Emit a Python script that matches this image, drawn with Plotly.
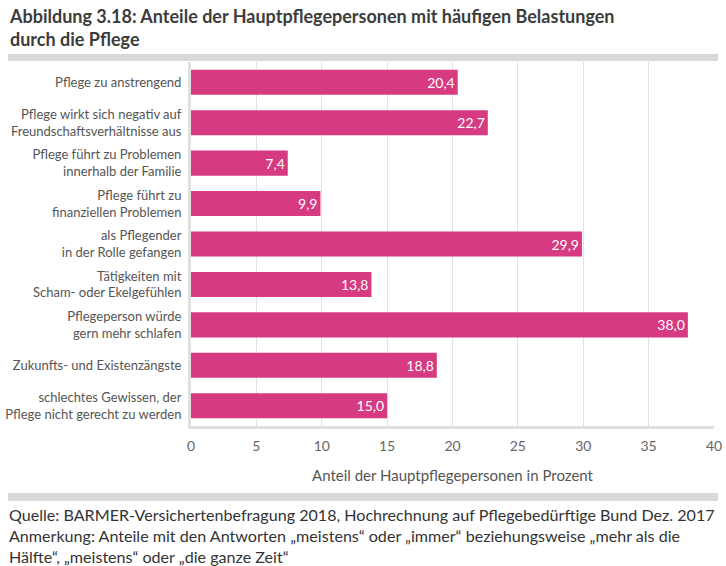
import plotly.graph_objects as go

categories = [
    "Pflege zu anstrengend",
    "Pflege wirkt sich negativ auf<br>Freundschaftsverhältnisse aus",
    "Pflege führt zu Problemen<br>innerhalb der Familie",
    "Pflege führt zu<br>finanziellen Problemen",
    "als Pflegender<br>in der Rolle gefangen",
    "Tätigkeiten mit<br>Scham- oder Ekelgefühlen",
    "Pflegeperson würde<br>gern mehr schlafen",
    "Zukunfts- und Existenzängste",
    "schlechtes Gewissen, der<br>Pflege nicht gerecht zu werden",
]
values = [20.4, 22.7, 7.4, 9.9, 29.9, 13.8, 38.0, 18.8, 15.0]
x_ticks = [0, 5, 10, 15, 20, 25, 30, 35, 40]

title_lines = ["Abbildung 3.18: Anteile der Hauptpflegepersonen mit häufigen Belastungen",
               "durch die Pflege"]
x_title = "Anteil der Hauptpflegepersonen in Prozent"
footer_lines = [
    "Quelle: BARMER-Versichertenbefragung 2018, Hochrechnung auf Pflegebedürftige Bund Dez. 2017",
    "Anmerkung: Anteile mit den Antworten „meistens“ oder „immer“ beziehungsweise „mehr als die",
    "Hälfte“, „meistens“ oder „die ganze Zeit“",
]

FONT = "Lato, Noto Sans, sans-serif"
BAR = "#D63A80"

labels = [f"{v:.1f}".replace(".", ",") for v in values]

L, R, T, B = 191, 12, 62, 140
W, H = 726, 566
pw = W - L - R
ph = H - T - B

def px_x(x):
    return (x - L) / pw

def px_y(y):
    return (H - B - y) / ph

fig = go.Figure(go.Bar(
    x=values, y=categories, orientation="h",
    marker=dict(color=BAR, line=dict(width=0)),
    text=labels, textposition="inside", insidetextanchor="end",
    textfont=dict(color="white", size=14, family=FONT),
    cliponaxis=False, hoverinfo="skip",
))

fig.update_layout(
    width=W, height=H,
    margin=dict(l=L, r=R, t=T, b=B, autoexpand=False),
    paper_bgcolor="white", plot_bgcolor="white",
    font=dict(family=FONT, color="#555555"),
    bargap=0.38,
    showlegend=False,
)
fig.update_xaxes(
    range=[0, 40], tickvals=x_ticks, ticktext=[str(t) for t in x_ticks],
    showgrid=True, gridcolor="#e2e2e2", gridwidth=1,
    zeroline=False, showline=True, linecolor="#e0e0e0", linewidth=3,
    tickfont=dict(size=14, color="#666666"), ticks="", ticklabelstandoff=5,
    title=dict(text=x_title, font=dict(size=15, color="#555555"), standoff=18),
    automargin=False, fixedrange=True,
)
fig.update_yaxes(
    autorange="reversed", showgrid=False, zeroline=False,
    showline=True, linecolor="#e0e0e0", linewidth=3,
    tickfont=dict(size=13, color="#555555"), ticks="", ticklabelstandoff=4,
    automargin=False, fixedrange=True,
)

fig.add_annotation(
    text="<br>".join("<b>" + t + "</b>" for t in title_lines),
    xref="paper", yref="paper", x=px_x(7), y=px_y(3),
    xanchor="left", yanchor="top", align="left", showarrow=False,
    font=dict(size=18, color="#3c3c3c", family=FONT),
)

fig.add_shape(type="rect", xref="paper", yref="paper",
              x0=px_x(8), x1=px_x(718), y0=px_y(61), y1=px_y(54),
              fillcolor="#d9d9d9", line=dict(width=0), layer="above")
fig.add_shape(type="rect", xref="paper", yref="paper",
              x0=px_x(8), x1=px_x(718), y0=px_y(501), y1=px_y(493),
              fillcolor="#d9d9d9", line=dict(width=0), layer="above")

fig.add_annotation(
    text="<br>".join(footer_lines), xref="paper", yref="paper", x=px_x(7), y=px_y(503),
    xanchor="left", yanchor="top", align="left", showarrow=False,
    font=dict(size=16.1, color="#333333", family=FONT),
)

fig.write_html("out.html", config={"displayModeBar": False},
               post_script="document.body.style.margin='0';")
